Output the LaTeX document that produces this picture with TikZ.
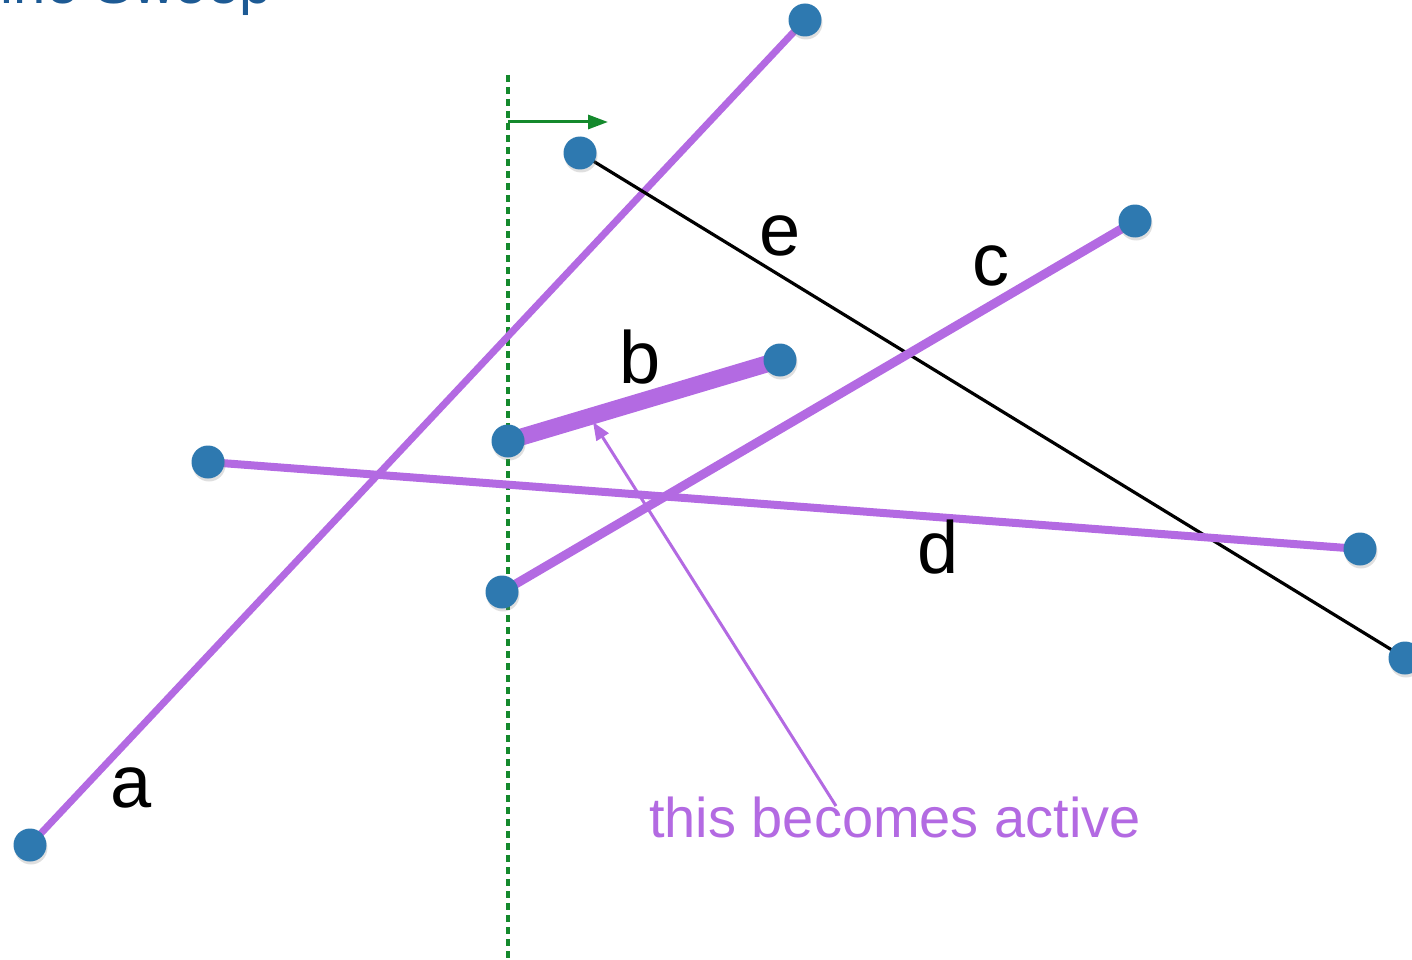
\documentclass[tikz,border=0pt]{standalone}
\usepackage{fontspec}
\setmainfont{Liberation Sans}
\usetikzlibrary{arrows.meta,shadows}
\definecolor{seg}{RGB}{179,106,226}
\definecolor{dotblue}{RGB}{46,121,176}
\definecolor{sweepgreen}{RGB}{20,137,44}
\definecolor{titleblue}{RGB}{29,90,148}
\tikzset{
  endpt/.style={circle,fill=dotblue,inner sep=0pt,minimum size=33pt,
    drop shadow={opacity=0.25,shadow xshift=1pt,shadow yshift=-3pt}},
  seglbl/.style={font=\fontsize{74}{80}\selectfont,inner sep=0pt,anchor=base},
  segline/.style={draw=seg,line cap=round},
}
\begin{document}
\begin{tikzpicture}[x=1pt,y=-1pt]
\useasboundingbox (0,0) rectangle (1412,960);
\clip (0,0) rectangle (1412,960);
% title (cut off at the top edge, as in the reference)
\node[anchor=base east,inner sep=0pt,text=titleblue,font=\fontsize{58}{64}\selectfont] (title) at (272,4) {Line Sweep};
% sweep line
\coordinate (sTop) at (508,75);
\coordinate (sBot) at (508,960);
\draw[sweepgreen,line width=3.5pt,dash pattern=on 7pt off 5pt] (sTop) -- (sBot);
\coordinate (arrS) at (508,122);
\coordinate (arrE) at (608,122);
\draw[sweepgreen,line width=3pt,-{Triangle[length=20pt,width=14pt]}] (arrS) -- (arrE);
% endpoints
\coordinate (a1) at (30,845);
\coordinate (a2) at (805,20);
\coordinate (e1) at (580,153);
\coordinate (e2) at (1405,658);
\coordinate (c1) at (502,592);
\coordinate (c2) at (1135,221);
\coordinate (b1) at (508,441);
\coordinate (b2) at (780,360);
\coordinate (d1) at (208,462);
\coordinate (d2) at (1360,549);
% segments
\draw[segline,line width=7pt] (a1) -- (a2);
\draw[black,line width=3.2pt] (e1) -- (e2);
\draw[segline,line width=9pt] (c1) -- (c2);
\draw[segline,line width=8pt] (d1) -- (d2);
\draw[segline,line width=17pt,line cap=butt] (b1) -- (b2);
% dots
\foreach \p in {a1,a2,e1,e2,c1,c2,b1,b2,d1,d2}
  \node[endpt] (n\p) at (\p) {};
% labels
\node[seglbl] (la) at (131,807) {a};
\node[seglbl] (lb) at (640,383) {b};
\node[seglbl] (lc) at (991,285) {c};
\node[seglbl] (ld) at (938,573) {d};
\node[seglbl] (le) at (780,255) {e};
% annotation
\node[anchor=base,inner sep=0pt,text=seg,font=\fontsize{56}{60}\selectfont] (act) at (895,837) {this becomes active};
\coordinate (tipB) at (593,422);
\coordinate (tailB) at (836,806);
\draw[seg,line width=3pt,-{Triangle[length=18pt,width=14pt]}] (tailB) -- (tipB);
\end{tikzpicture}
\end{document}
